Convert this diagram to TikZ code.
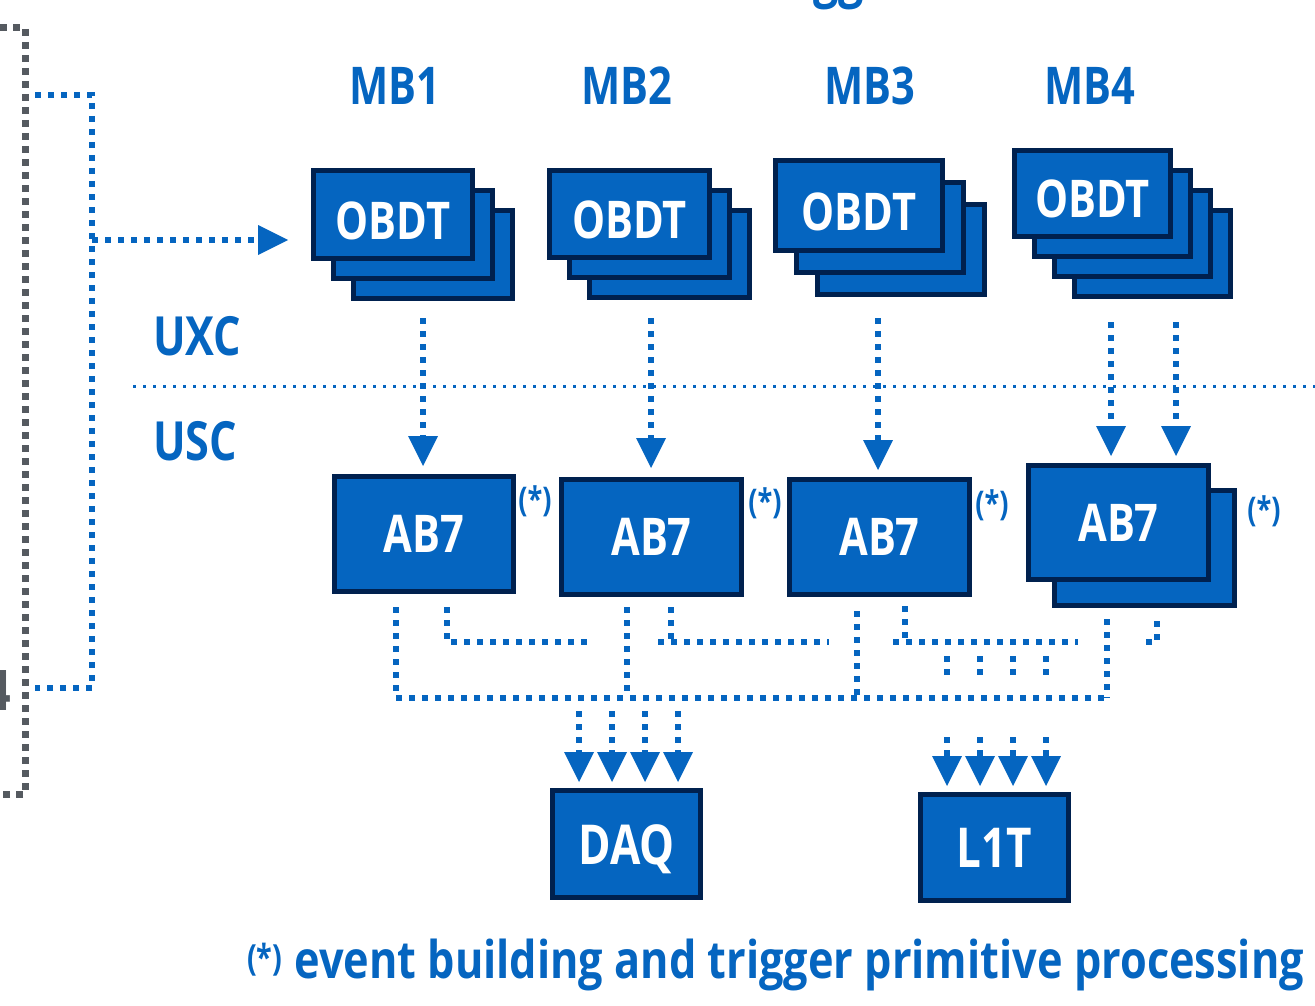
\documentclass[tikz,border=0pt]{standalone}
\usepackage{fontspec}
\setmainfont{Open Sans}[FakeStretch=0.8]
\usetikzlibrary{arrows.meta}

\definecolor{cmsblue}{RGB}{5,101,192}
\definecolor{navy}{RGB}{0,33,79}
\definecolor{dotgray}{RGB}{85,90,96}

\tikzset{
  card/.style={rectangle, draw=navy, line width=5pt, fill=cmsblue,
    inner sep=0pt, text=white},
  obdtfont/.style={font=\bfseries\fontsize{52}{60}\selectfont,
    text height=49pt, text depth=0pt},
  abfont/.style={font=\bfseries\fontsize{52}{60}\selectfont,
    text height=37pt, text depth=0pt},
  outfont/.style={font=\bfseries\fontsize{55}{64}\selectfont,
    text height=40pt, text depth=0pt},
  title/.style={text=cmsblue, font=\bfseries\fontsize{52}{60}\selectfont,
    inner sep=0pt},
  zone/.style={text=cmsblue, font=\bfseries\fontsize{54}{64}\selectfont,
    inner sep=0pt, anchor=base west},
  star/.style={text=cmsblue, font=\bfseries\fontsize{34}{40}\selectfont,
    inner sep=0pt},
  link/.style={draw=cmsblue, line width=6pt, dash pattern=on 6pt off 7pt},
  flow/.style={link, -{Triangle[width=30pt,length=30pt,line width=0pt]}},
  gline/.style={draw=dotgray, line width=7pt, dash pattern=on 7pt off 6pt},
  sep/.style={draw=cmsblue, line width=3pt, dash pattern=on 3pt off 7pt},
}

\begin{document}
\begin{tikzpicture}[x=1pt,y=-1pt]
\useasboundingbox (0,0) rectangle (1315,1006);
\clip (0,0) rectangle (1315,1006);

% heading fragment and side label fragment at the borders
\node[text=cmsblue, font=\bfseries\fontsize{56}{64}\selectfont,
  inner sep=0pt, anchor=base west] (head) at (813,-3) {gg};
\node[text=dotgray, font=\bfseries\fontsize{56}{64}\selectfont,
  inner sep=0pt, anchor=base east] (side) at (11,710) {4};

% outer grey frame
\draw[gline] (0,28) -| (25,794) -- (0,794);

% chamber labels
\node[title] (mb1) at (395,86) {MB1};
\node[title] (mb2) at (627,86) {MB2};
\node[title] (mb3) at (870,86) {MB3};
\node[title] (mb4) at (1090,86) {MB4};

% OBDT stacks (back to front)
\node[card, minimum width=159pt, minimum height=88pt] (ob1c) at (433,254.5) {};
\node[card, minimum width=159pt, minimum height=88pt] (ob1b) at (413,234.5) {};
\node[card, obdtfont, minimum width=159pt, minimum height=88pt] (ob1a) at (393,214.5) {OBDT};

\node[card, minimum width=160pt, minimum height=87pt] (ob2c) at (669.5,254) {};
\node[card, minimum width=160pt, minimum height=87pt] (ob2b) at (649.5,234) {};
\node[card, obdtfont, minimum width=160pt, minimum height=87pt] (ob2a) at (629.5,214) {OBDT};

\node[card, minimum width=167pt, minimum height=90pt] (ob3c) at (901,249.5) {};
\node[card, minimum width=167pt, minimum height=90pt] (ob3b) at (880,227.5) {};
\node[card, obdtfont, minimum width=167pt, minimum height=90pt] (ob3a) at (859,205.5) {OBDT};

\node[card, minimum width=156pt, minimum height=86pt] (ob4d) at (1152.5,253.5) {};
\node[card, minimum width=156pt, minimum height=86pt] (ob4c) at (1132.5,233.5) {};
\node[card, minimum width=156pt, minimum height=86pt] (ob4b) at (1112.5,213.5) {};
\node[card, obdtfont, minimum width=156pt, minimum height=86pt] (ob4a) at (1092.5,193.5) {OBDT};

% cavern labels and boundary
\node[zone] (uxc) at (153,355) {UXC};
\node[zone] (usc) at (153,460) {USC};
\coordinate (wallL) at (133,386);
\coordinate (wallR) at (1315,386);
\draw[sep] (wallL) -- (wallR);

% AB7 boards
\node[card, abfont, minimum width=179pt, minimum height=115pt] (ab1) at (424,534) {AB7};
\node[card, abfont, minimum width=180pt, minimum height=115pt] (ab2) at (651.5,537) {AB7};
\node[card, abfont, minimum width=180pt, minimum height=115pt] (ab3) at (879.5,537) {AB7};
\node[card, minimum width=180pt, minimum height=115pt] (ab4b) at (1144.5,548) {};
\node[card, abfont, minimum width=180pt, minimum height=114pt] (ab4a) at (1118.5,522.5) {AB7};

\node[star] (st1) at (535,501) {(*)};
\node[star] (st2) at (765,503) {(*)};
\node[star] (st3) at (992,505) {(*)};
\node[star] (st4) at (1264,511) {(*)};

% DAQ and L1T
\node[card, outfont, minimum width=148pt, minimum height=107pt] (daq) at (626.5,844) {DAQ};
\node[card, outfont, minimum width=148pt, minimum height=106pt] (l1t) at (994.5,847.5) {L1T};

% link coming from the left
\coordinate (tapA) at (35,95);
\coordinate (tapB) at (35,688);
\coordinate (fork) at (92,240);
\draw[link] (tapA) -| (92,688) -- (tapB);
\draw[flow, shorten >=23pt] (fork) -- (fork -| ob1a.west);

% OBDT -> AB7
\draw[flow, shorten >=8pt] ([xshift=-1pt,yshift=156pt]ab1.north) -- ([xshift=-1pt]ab1.north);
\draw[flow, shorten >=9pt] ([xshift=-0.5pt,yshift=159pt]ab2.north) -- ([xshift=-0.5pt]ab2.north);
\draw[flow, shorten >=7pt] ([xshift=-1.5pt,yshift=159pt]ab3.north) -- ([xshift=-1.5pt]ab3.north);
\draw[flow, shorten >=7pt] ([xshift=-7.5pt,yshift=141pt]ab4a.north) -- ([xshift=-7.5pt]ab4a.north);
\draw[flow, shorten >=7pt] ([xshift=57.5pt,yshift=141pt]ab4a.north) -- ([xshift=57.5pt]ab4a.north);

% readout bus towards DAQ
\coordinate (daqR) at (1107,698);
\draw[link] ([xshift=-28pt,yshift=-13pt]ab1.south) |- (daqR);
\draw[link] ([xshift=-24.5pt,yshift=-10pt]ab2.south) -- ++(0,91);
\draw[link] ([xshift=-22.5pt,yshift=-14pt]ab3.south) -- ++(0,87);
\draw[link] ([xshift=-37.5pt,yshift=-11pt]ab4b.south) -- (daqR);

% trigger primitive bus towards L1T
\coordinate (trgA) at (658,642);
\coordinate (trgB) at (893,642);
\draw[link] ([xshift=23pt,yshift=-13pt]ab1.south) |- ++(146,35);
\draw[link] ([xshift=19.5pt,yshift=-10pt]ab2.south) -- ++(0,35);
\draw[link] (trgA) -- ++(171,0);
\draw[link] ([xshift=25.5pt,yshift=-9pt]ab3.south) -- ++(0,36);
\draw[link] (trgB) -- ++(185,0);
\draw[link] ([xshift=12.5pt,yshift=-13pt]ab4b.south) |- ++(-13,21);

% inputs of DAQ and L1T
\foreach \dx in {-47.5,-14.5,18.5,51.5} {
  \draw[flow, shorten >=6pt] ([xshift=\dx pt,yshift=77pt]daq.north) -- ([xshift=\dx pt]daq.north);
  \draw[link] ([xshift=\dx pt,yshift=136pt]l1t.north) -- ++(0,19);
  \draw[flow, shorten >=6pt] ([xshift=\dx pt,yshift=55pt]l1t.north) -- ([xshift=\dx pt]l1t.north);
}

% footnote
\node[text=cmsblue, font=\bfseries\fontsize{52}{60}\selectfont, inner sep=0pt,
  anchor=base west] (note) at (247,978)
  {\raisebox{8pt}{\fontsize{36}{40}\selectfont(*)}\hspace{12pt}\scalebox{1.04}[1]{event building and trigger primitive processing}};
\end{tikzpicture}
\end{document}
